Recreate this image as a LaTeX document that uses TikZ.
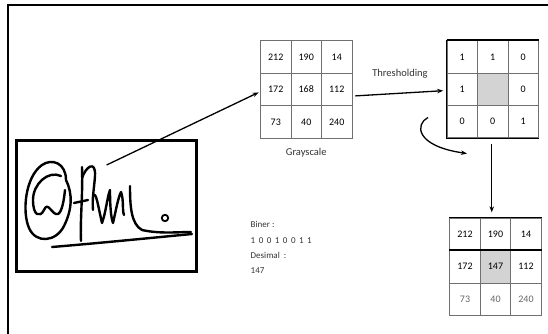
\documentclass[tikz,border=0pt]{standalone}
\usepackage{fontspec}
\setmainfont{Carlito}
\usepackage{tikz}
\usetikzlibrary{arrows.meta,positioning,matrix,shadows}
\definecolor{shade}{HTML}{D3D3D3}
\definecolor{gline}{HTML}{707070}

\begin{document}
\begin{tikzpicture}[x=1pt,y=-1pt,
  font=\fontsize{10}{12}\selectfont,
  cell/.style={draw=gline,line width=0.7pt,minimum width=30.5pt,
               minimum height=32.4pt,inner sep=0pt,anchor=center},
  grid/.style={matrix of nodes,nodes in empty cells,nodes={cell},
               column sep=-0.7pt,row sep=-0.7pt,draw,line width=0.8pt,
               inner sep=0pt},
  arr/.style={-{Stealth[length=6pt,width=4.5pt]},line width=1.3pt},
  lbl/.style={font=\fontsize{10.5}{12}\selectfont,text=black!80},
  pen/.style={line width=2.4pt,line cap=round,line join=round}
]
\useasboundingbox (0,0) rectangle (548,334);
% page frame, top and left edge only
\draw[line width=2.6pt] (8,334) -- (8,5) -- (548,5);

% scanned signature
\node[draw,fill=white,line width=3pt,minimum width=180pt,
      minimum height=130.7pt,
      drop shadow={shadow xshift=1.5pt,shadow yshift=-1.5pt,opacity=0.45}]
  (sig) at (106.5,205.9) {};
\draw[pen] (66,180) .. controls (66,163) and (52,158) .. (42,165)
  .. controls (25,177) and (22,212) .. (29,228)
  .. controls (36,244) and (56,242) .. (64,226)
  .. controls (72,210) and (73,194) .. (66,180);
\draw[pen] (61,176) .. controls (48,170) and (33,184) .. (33,200)
  .. controls (33,216) and (40,218) .. (44,210)
  .. controls (48,200) and (52,216) .. (58,214)
  .. controls (62,212) and (64,200) .. (65,190);
\draw[pen] (82,167) .. controls (83,195) and (80,220) .. (81,241);
\draw[pen] (82,178) .. controls (86,166) and (96,160) .. (95,176)
  .. controls (94,190) and (92,198) .. (93,210);
\draw[pen] (74,203) -- (88,200);
\draw[pen] (93,196) .. controls (96,190) and (98,206) .. (102,223)
  .. controls (106,212) and (107,198) .. (110,190)
  .. controls (110,206) and (111,218) .. (113,223)
  .. controls (116,210) and (118,198) .. (121,192)
  .. controls (124,200) and (122,210) .. (124,215);
\draw[pen] (130,186) .. controls (130,206) and (131,224) .. (142,230)
  .. controls (160,234) and (178,232) .. (191,232);
\draw[line width=1.8pt] (165,218) circle (3.2pt);
\draw[pen] (52,247) .. controls (100,243) and (150,238) .. (192,234);
\coordinate (tail) at (106.6,165);

% pixel neighbourhoods
\matrix[grid] (gray) at (306.25,89.4) {
  212 & 190 & 14 \\
  172 & 168 & 112 \\
  73 & 40 & 240 \\
};
\matrix[grid] (thr) at (492.75,89.2) {
  1 & 1 & 0 \\
  1 & |[fill=shade]| & 0 \\
  0 & 0 & 1 \\
};
\matrix[grid] (out) at (495.5,266.7) {
  212 & 190 & 14 \\
  172 & |[fill=shade]| 147 & 112 \\
  |[text=black!60]| 73 & |[text=black!60]| 40 & |[text=black!60]| 240 \\
};
\draw[line width=1.6pt] (thr-1-1.north west) -- (thr-1-3.north east);
\draw[line width=1.6pt] (out-2-1.north west) -- (out-2-3.north east);

\node[lbl,below=6pt of gray] (glbl) {Grayscale};
\node[lbl] (tlbl) at (400,74) {Thresholding};
\node[anchor=north west,align=left,font=\fontsize{9}{15.3}\selectfont,
      text=black!80,inner sep=0pt] (code) at (250.5,221.5)
  {Biner :\\ 1\hspace{3.5pt}0\hspace{3.5pt}0\hspace{3.5pt}1\hspace{3.5pt}%
   0\hspace{3.5pt}0\hspace{3.5pt}1\hspace{3.5pt}1\\
   Desimal \ :\\ 147};

% connectors
\draw[arr] (tail) -- ([xshift=-1.5pt,yshift=-3pt]gray-2-1.west);
\draw[arr] ([xshift=3pt,yshift=-6.5pt]gray-2-3.east)
  -- ([xshift=-3.5pt,yshift=-1.5pt]thr-2-1.west);
\coordinate (curlA) at (428,117.5);
\coordinate (curlB) at (467,153.5);
\draw[arr] (curlA) .. controls (415,124) and (415,146) .. (curlB);
\draw[arr] ([xshift=-1pt,yshift=-6pt]thr-3-2.south)
  -- ([xshift=-1pt,yshift=5pt]thr-3-2.south |- out.north);
\end{tikzpicture}
\end{document}
